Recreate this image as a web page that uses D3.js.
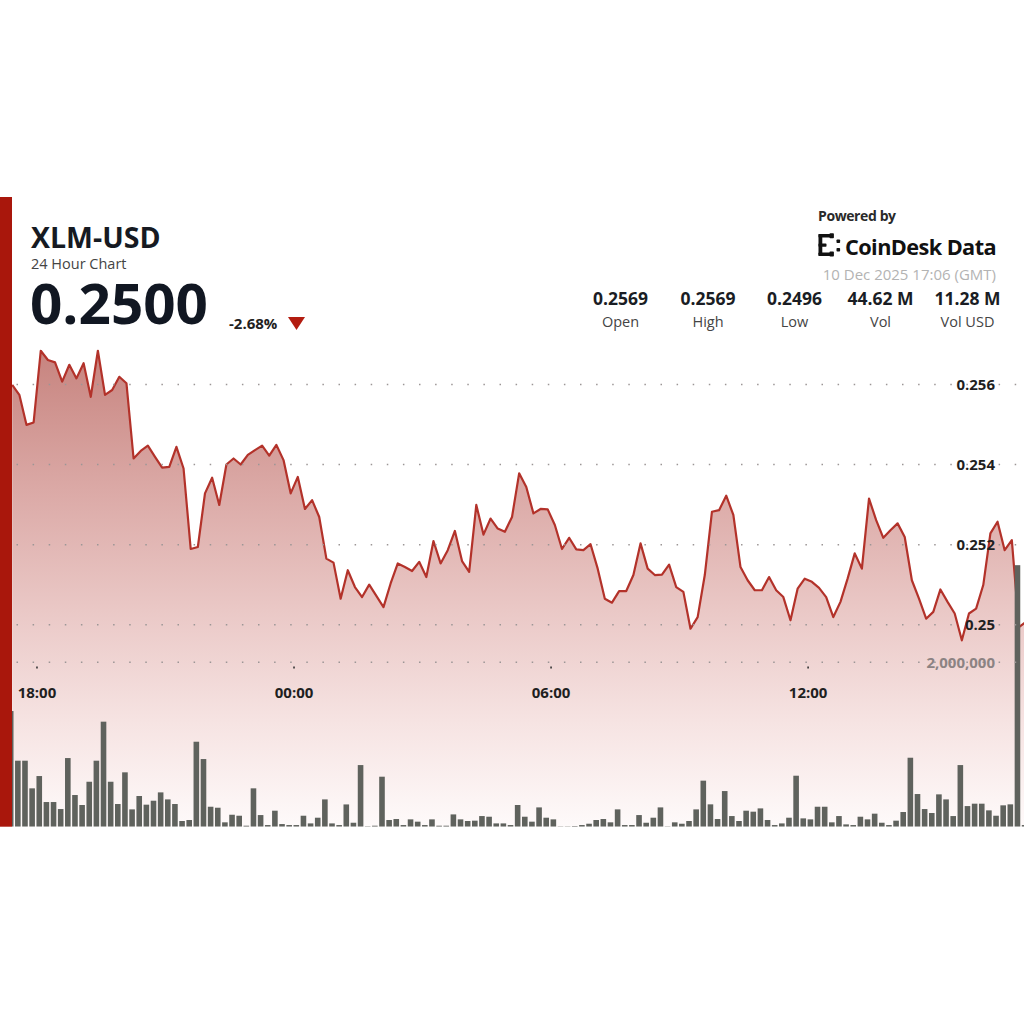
<!DOCTYPE html>
<html><head><meta charset="utf-8">
<script src="https://cdn.jsdelivr.net/npm/d3@7"></script>
<style>
html,body{margin:0;padding:0;background:#fff;}
svg{display:block;font-family:'Open Sans','Noto Sans',sans-serif;}
</style>
</head><body>
<svg id="chart" width="1024" height="1024"></svg>
<script>
// ---------- DATA ----------
const symbol = "XLM-USD";
const subtitle = "24 Hour Chart";
const lastPrice = "0.2500";
const changePct = "-2.68%";
const timestampLabel = "10 Dec 2025 17:06 (GMT)";
const statValues = ["0.2569", "0.2569", "0.2496", "44.62 M", "11.28 M"];
const statLabels = ["Open", "High", "Low", "Vol", "Vol USD"];

const startTime = "2025-12-09T17:26:00Z";
const stepMinutes = 10;

const prices = [
  0.25598, 0.25573, 0.25498, 0.25504, 0.25683, 0.25660, 0.25654, 0.25606, 0.25648, 0.25614,
  0.25652, 0.25568, 0.25683, 0.25573, 0.25585, 0.25618, 0.25602, 0.25414, 0.25433, 0.25446,
  0.25418, 0.25391, 0.25393, 0.25443, 0.25389, 0.25188, 0.25193, 0.25327, 0.25366, 0.25298,
  0.25399, 0.25414, 0.25399, 0.25423, 0.25435,
  0.25446, 0.25421, 0.25448, 0.25410, 0.25327, 0.25368, 0.25288, 0.25310, 0.25268, 0.25164,
  0.25154, 0.25064, 0.25135, 0.25093, 0.25068, 0.25099, 0.25071, 0.25043, 0.25102, 0.25152,
  0.25143, 0.25133, 0.25156, 0.25118, 0.25208, 0.25152, 0.25185, 0.25233, 0.25158, 0.25131,
  0.25298, 0.25224, 0.25264, 0.25239, 0.25231, 0.25268,
  0.25377, 0.25343, 0.25277, 0.25288, 0.25287, 0.25248, 0.25188, 0.25216, 0.25187, 0.25185,
  0.25200, 0.25139, 0.25064, 0.25054, 0.25083, 0.25083, 0.25123, 0.25202, 0.25139, 0.25123,
  0.25124, 0.25149, 0.25093, 0.25081, 0.24989, 0.25018, 0.25123, 0.25281, 0.25285, 0.25321,
  0.25273, 0.25143, 0.25110, 0.25085, 0.25085, 0.25118,
  0.25085, 0.25068, 0.25010, 0.25089, 0.25114, 0.25106, 0.25091, 0.25068, 0.25018, 0.25056,
  0.25114, 0.25177, 0.25139, 0.25314, 0.25260, 0.25216, 0.25235, 0.25252, 0.25218, 0.25110,
  0.25064, 0.25014, 0.25031, 0.25087, 0.25056, 0.25027, 0.24960, 0.25027, 0.25039, 0.25098,
  0.25227, 0.25256, 0.25185, 0.25210, 0.24993, 0.25006
];

const volumes = [
  1402000, 800000, 800000, 465000, 614000, 299000, 299000, 214000, 832000, 384000,
  263000, 545000, 800000, 1273000, 545000, 275000, 659000, 210000, 372000, 267000,
  315000, 416000, 331000, 275000, 69000, 81000, 1030000, 820000, 242000, 230000,
  53000, 145000, 133000, 12000, 465000, 141000, 20000, 194000, 32000, 20000,
  20000, 133000, 40000, 109000, 331000, 40000, 20000, 270000, 48000, 747000,
  5000, 12000, 606000, 81000, 93000, 20000, 89000, 61000, 20000, 89000,
  12000, 12000, 149000, 89000, 69000, 73000, 129000, 121000, 40000, 40000,
  20000, 263000, 121000, 61000, 234000, 109000, 89000, 4000, 4000, 8000,
  20000, 36000, 81000, 93000, 53000, 210000, 20000, 20000, 141000, 48000,
  109000, 234000, 4000, 53000, 36000, 69000, 210000, 558000, 271000, 93000,
  432000, 129000, 69000, 194000, 182000, 222000, 81000, 20000, 40000, 109000,
  618000, 101000, 89000, 242000, 242000, 53000, 129000, 28000, 20000, 121000,
  89000, 158000, 48000, 20000, 73000, 178000, 836000, 396000, 214000, 166000,
  392000, 331000, 129000, 747000, 250000, 279000, 279000, 198000, 133000, 259000,
  271000, 3170000, 20000
];

const priceTicks = [0.25, 0.252, 0.254, 0.256];
const volumeTicks = [2000000];
const timeTicks = ["2025-12-09T18:00:00Z", "2025-12-10T00:00:00Z", "2025-12-10T06:00:00Z", "2025-12-10T12:00:00Z"];

// ---------- SETUP ----------
const svg = d3.select("#chart");
const t0 = new Date(startTime);
const series = prices.map((p, i) => ({
  t: new Date(t0.getTime() + i * stepMinutes * 60000),
  p: p,
  v: volumes[i]
}));

const x = d3.scaleUtc()
  .domain([t0, new Date(t0.getTime() + 142 * stepMinutes * 60000)])
  .range([12.2, 1026.1]);
const yP = d3.scaleLinear().domain([0.25, 0.256]).range([624.3, 384]);
const yV = d3.scaleLinear().domain([0, 2000000]).range([826.7, 661.7]);
const bottom = yV(0);

const defs = svg.append("defs");
const grad = defs.append("linearGradient").attr("id", "areaGrad")
  .attr("gradientUnits", "userSpaceOnUse").attr("x1", 0).attr("x2", 0).attr("y1", 345).attr("y2", bottom);
[[0, "#c6827d"], [0.3, "#dba9a6"], [0.55, "#eac8c6"], [0.78, "#f6e3e2"], [1, "#fefafa"]]
  .forEach(([o, c]) => grad.append("stop").attr("offset", o).attr("stop-color", c));
defs.append("clipPath").attr("id", "plotClip").append("rect")
  .attr("x", 12).attr("y", 300).attr("width", 1012).attr("height", bottom - 300);

const plot = svg.append("g").attr("clip-path", "url(#plotClip)");

// area
plot.append("path").datum(series)
  .attr("fill", "url(#areaGrad)")
  .attr("d", d3.area().x(d => x(d.t)).y0(bottom).y1(d => yP(d.p)));

// grid lines
const gridStyle = sel => {
  sel.select(".domain").remove();
  sel.selectAll(".tick line").attr("stroke", "#9c9696").attr("stroke-width", 1.5)
    .attr("stroke-dasharray", "1.5,14.6");
};
const gP = svg.append("g").attr("transform", "translate(16.5,0)")
  .call(d3.axisRight(yP).tickValues(priceTicks).tickSize(1004).tickFormat(d3.format(".3~f")));
gridStyle(gP);
gP.selectAll(".tick text").attr("x", 978.5).attr("dy", "0.36em").attr("text-anchor", "end")
  .attr("font-size", 15).attr("font-weight", 700).attr("fill", "#1f1f1f")
  .attr("font-family", "'Open Sans',sans-serif");

const gV = svg.append("g").attr("transform", "translate(16.5,0)")
  .call(d3.axisRight(yV).tickValues(volumeTicks).tickSize(1004).tickFormat(d3.format(",")));
gridStyle(gV);
gV.selectAll(".tick text").attr("x", 978.5).attr("dy", "0.36em").attr("text-anchor", "end")
  .attr("font-size", 15).attr("font-weight", 700).attr("fill", "#8c8383")
  .attr("font-family", "'Open Sans',sans-serif");

// time axis
const gX = svg.append("g").attr("transform", "translate(0,666.5)")
  .call(d3.axisBottom(x).tickValues(timeTicks.map(s => new Date(s))).tickSize(2)
    .tickFormat(d3.utcFormat("%H:%M")));
gX.select(".domain").remove();
gX.selectAll(".tick line").attr("stroke", "#333").attr("stroke-width", 1.6);
gX.selectAll(".tick text").attr("y", 31.5).attr("dy", null)
  .attr("font-size", 15).attr("font-weight", 700).attr("fill", "#1f1f1f")
  .attr("font-family", "'Open Sans',sans-serif");

// price line
plot.append("path").datum(series)
  .attr("fill", "none").attr("stroke", "#b3322a").attr("stroke-width", 2.2)
  .attr("stroke-linejoin", "round")
  .attr("d", d3.line().x(d => x(d.t)).y(d => yP(d.p)));

// volume bars
plot.append("g").selectAll("rect").data(series).join("rect")
  .attr("x", d => x(d.t) - 4.3)
  .attr("width", 5.6)
  .attr("y", d => yV(d.v))
  .attr("height", d => bottom - yV(d.v))
  .attr("fill", "#5f625d");

// left red band
svg.append("rect").attr("x", 0).attr("y", 197).attr("width", 12).attr("height", bottom - 197)
  .attr("fill", "#a9170c");

// ---------- HEADER ----------
svg.append("text").attr("x", 31).attr("y", 248).text(symbol)
  .attr("font-size", 28.5).attr("font-weight", 700).attr("fill", "#161a22");
svg.append("text").attr("x", 31).attr("y", 269).text(subtitle)
  .attr("font-size", 14.5).attr("fill", "#444");
svg.append("text").attr("x", 30).attr("y", 324).text(lastPrice)
  .attr("font-size", 55).attr("font-weight", 700).attr("fill", "#111722")
  .attr("textLength", 178).attr("lengthAdjust", "spacingAndGlyphs");
svg.append("text").attr("x", 229).attr("y", 328.5).text(changePct)
  .attr("font-size", 15).attr("font-weight", 700).attr("fill", "#222");
svg.append("path").attr("d", "M288,317 L305,317 L296.5,330 Z").attr("fill", "#b31c10");

// powered by
svg.append("text").attr("x", 818).attr("y", 220.5).text("Powered by")
  .attr("font-size", 14).attr("font-weight", 700).attr("fill", "#2a2a2a")
  .attr("letter-spacing", -0.4);
const logo = svg.append("g").attr("fill", "#111");
[[818.5, 234, 3.8, 22], [818.5, 234, 12, 3.6], [818.5, 252.4, 12, 3.6], [818.5, 243.6, 8, 3.2],
 [829.5, 233.2, 4.4, 5], [829.5, 251.6, 4.4, 5], [836.5, 239.5, 3.6, 3.6], [836.5, 248, 3.6, 3.6]]
  .forEach(r => logo.append("rect").attr("x", r[0]).attr("y", r[1]).attr("width", r[2]).attr("height", r[3]).attr("rx", 0.8));
svg.append("text").attr("x", 845).attr("y", 255).text("CoinDesk Data")
  .attr("font-size", 22).attr("font-weight", 700).attr("fill", "#111")
  .attr("letter-spacing", -0.6).attr("textLength", 151).attr("lengthAdjust", "spacingAndGlyphs");
svg.append("text").attr("x", 996).attr("y", 280).attr("text-anchor", "end").text(timestampLabel)
  .attr("font-size", 15).attr("fill", "#b3b3b3");

const statX = [620.5, 708, 794.5, 880.5, 967.5];
statValues.forEach((v, i) => {
  svg.append("text").attr("x", statX[i]).attr("y", 305).attr("text-anchor", "middle").text(v)
    .attr("font-size", 17.5).attr("font-weight", 700).attr("fill", "#1a1d24");
  svg.append("text").attr("x", statX[i]).attr("y", 327).attr("text-anchor", "middle").text(statLabels[i])
    .attr("font-size", 14.5).attr("fill", "#444");
});
</script>
</body></html>
